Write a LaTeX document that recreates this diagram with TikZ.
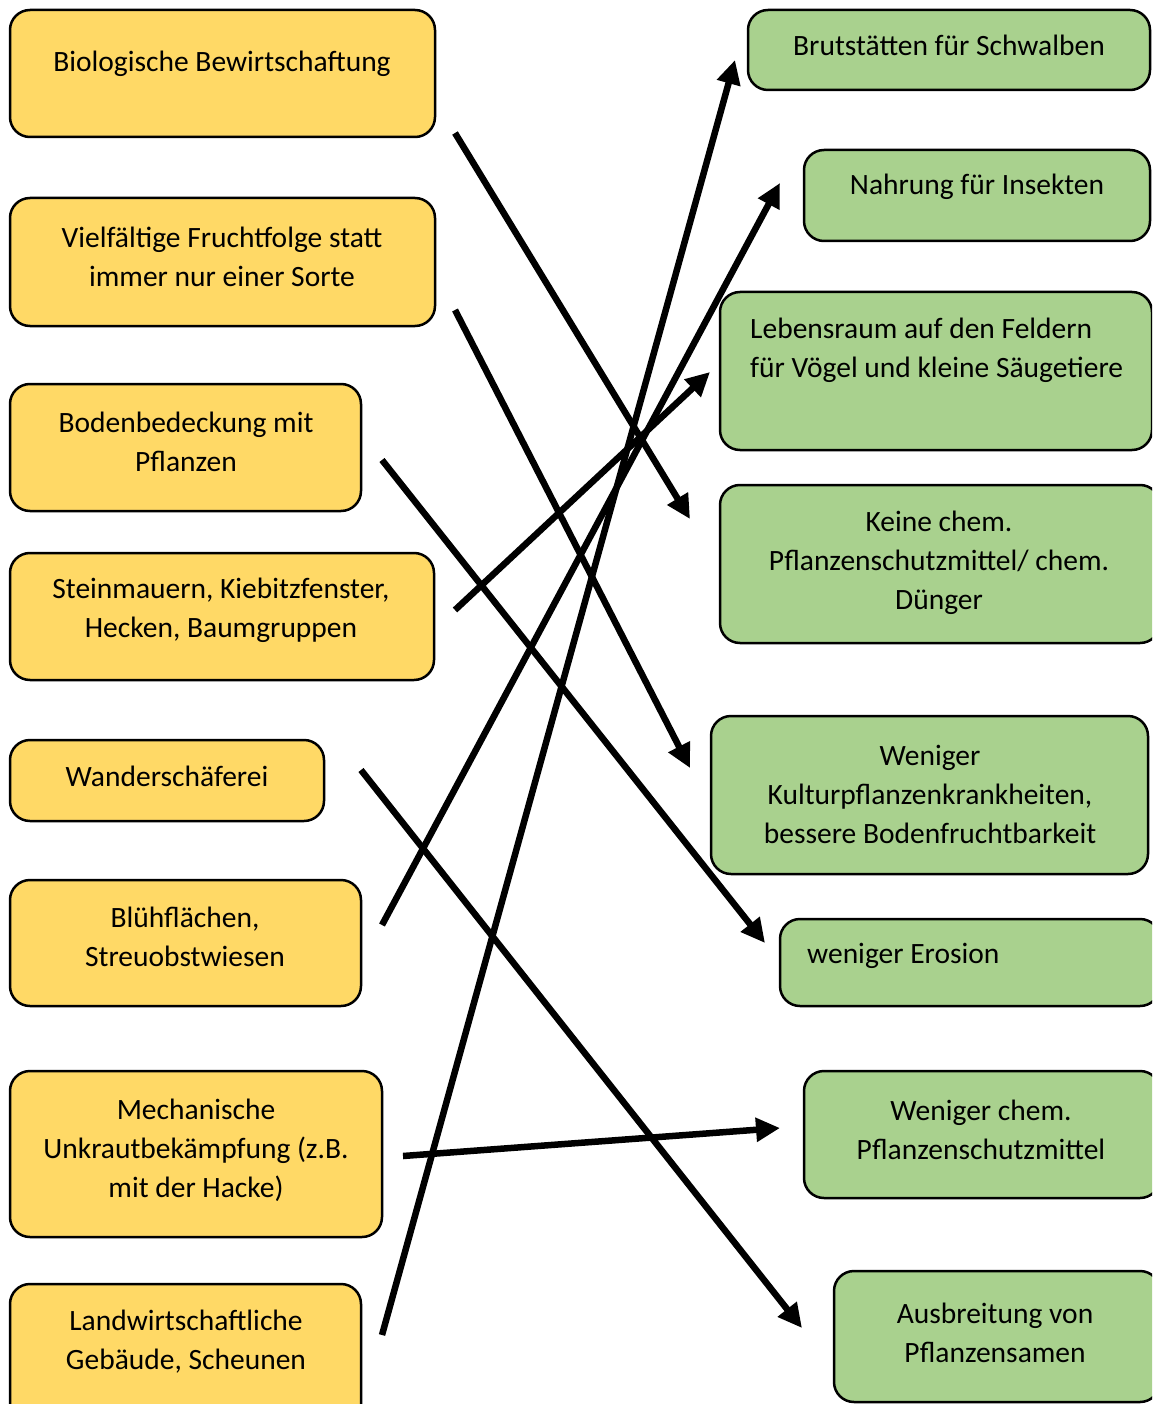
\documentclass[tikz,border=0pt]{standalone}
\usepackage{fontspec}
\setmainfont{Carlito}
\usetikzlibrary{arrows.meta,fit}
\definecolor{yfill}{HTML}{FFD966}
\definecolor{gfill}{HTML}{A9D18E}
\tikzset{
  box/.style={draw=black, line width=2.5pt, rounded corners=20pt, inner sep=0pt, outer sep=0pt},
  ybox/.style={box, fill=yfill},
  gbox/.style={box, fill=gfill},
  txt/.style={inner sep=0pt, align=center, font=\fontsize{29.5}{39}\selectfont},
  ltxt/.style={txt, align=left, anchor=west},
  arr/.style={line width=6.5pt, -{Triangle[length=24pt,width=23pt]}}
}
\begin{document}
\begin{tikzpicture}[x=1pt,y=-1pt]
\useasboundingbox (0,0) rectangle (1152,1404);
\clip (0,0) rectangle (1152,1404);
% left boxes
\node[ybox, fit={(10,10) (435,137)}] (L1) {};
\node[ybox, fit={(10,198) (435,326)}] (L2) {};
\node[ybox, fit={(10,384) (361,511)}] (L3) {};
\node[ybox, fit={(10,553) (434,680)}] (L4) {};
\node[ybox, fit={(10,740) (324,821)}] (L5) {};
\node[ybox, fit={(10,880) (361,1006)}] (L6) {};
\node[ybox, fit={(10,1071) (382,1237)}] (L7) {};
\node[ybox, fit={(10,1284) (361,1430)}] (L8) {};
% right boxes
\node[gbox, fit={(748,10) (1150,90)}] (R1) {};
\node[gbox, fit={(804,150) (1150,241)}] (R2) {};
\node[gbox, fit={(720,292) (1152,450)}] (R3) {};
\node[gbox, fit={(720,485) (1160,643)}] (R4) {};
\node[gbox, fit={(711,716) (1148,874)}] (R5) {};
\node[gbox, fit={(780,919) (1160,1006)}] (R6) {};
\node[gbox, fit={(804,1071) (1160,1198)}] (R7) {};
\node[gbox, fit={(834,1271) (1160,1402)}] (R8) {};
% left texts
\node[txt] (tL1) at (222,64) {Biologische Bewirtschaftung};
\node[txt] (tL2) at (222,256.5) {Vielfältige Fruchtfolge statt\\immer nur einer Sorte};
\node[txt] (tL3) at (186,441.5) {Bodenbedeckung mit\\Pflanzen};
\node[txt] (tL4) at (221,610.5) {Steinmauern, Kiebitzfenster,\\Hecken, Baumgruppen};
\node[txt] (tL5) at (167,776) {Wanderschäferei};
\node[txt] (tL6) at (185,937) {Blühflächen,\\Streuobstwiesen};
\node[txt] (tL7) at (196,1150) {Mechanische\\Unkrautbekämpfung (z.B.\\mit der Hacke)};
\node[txt] (tL8) at (186,1341.5) {Landwirtschaftliche\\Gebäude, Scheunen};
% right texts
\node[txt] (tR1) at (949,45) {Brutstätten für Schwalben};
\node[txt] (tR2) at (977,187) {Nahrung für Insekten};
\node[ltxt] (tR3) at (750,350.5) {Lebensraum auf den Feldern\\für Vögel und kleine Säugetiere};
\node[txt] (tR4) at (939,563) {Keine chem.\\Pflanzenschutzmittel/ chem.\\Dünger};
\node[txt] (tR5) at (930,794.5) {Weniger\\Kulturpflanzenkrankheiten,\\bessere Bodenfruchtbarkeit};
\node[ltxt] (tR6) at (807,956) {weniger Erosion};
\node[txt] (tR7) at (981,1129.5) {Weniger chem.\\Pflanzenschutzmittel};
\node[txt] (tR8) at (995,1332.5) {Ausbreitung von\\Pflanzensamen};
% arrow end points
\coordinate (s1) at (455,133);  \coordinate (e1) at (690,519);
\coordinate (s2) at (455,310);  \coordinate (e2) at (690,768);
\coordinate (s3) at (382,460);  \coordinate (e3) at (765,943);
\coordinate (s4) at (455,610);  \coordinate (e4) at (710,372);
\coordinate (s5) at (361,770);  \coordinate (e5) at (802,1328);
\coordinate (s6) at (382,925);  \coordinate (e6) at (780,183);
\coordinate (s7) at (403,1156); \coordinate (e7) at (780,1128);
\coordinate (s8) at (382,1335); \coordinate (e8) at (735,60);
\foreach \i in {1,...,8} { \draw[arr] (s\i) -- (e\i); }
\end{tikzpicture}
\end{document}
